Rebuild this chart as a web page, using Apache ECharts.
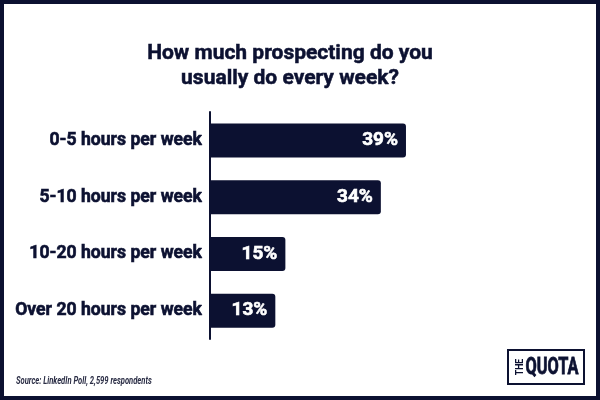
<!DOCTYPE html>
<html><head><meta charset="utf-8">
<script src="https://cdn.jsdelivr.net/npm/echarts@6/dist/echarts.min.js"></script>
<style>html,body{margin:0;padding:0;background:#fff}#c{width:600px;height:400px}</style>
</head><body><div id="c"></div>
<script>
const categories = ['0-5 hours per week', '5-10 hours per week', '10-20 hours per week', 'Over 20 hours per week'];
const values = [39, 34, 15, 13];
const titleText = 'How much prospecting do you\nusually do every week?';
const sourceText = 'Source: LinkedIn Poll, 2,599 respondents';
const navy = '#0c1131';

const chart = echarts.init(document.getElementById('c'), null, {renderer: 'canvas'});
chart.setOption({
  backgroundColor: '#fff',
  animation: false,
  title: {
    text: titleText,
    left: 285, top: 36, textAlign: 'center',
    textStyle: {fontFamily: 'Roboto', fontWeight: 'bold', fontSize: 21, lineHeight: 25, color: navy,
      textBorderColor: navy, textBorderWidth: 0.5}
  },
  grid: {left: 210, right: 189, top: 112, bottom: 61},
  xAxis: {type: 'value', min: 0, max: 40, show: false},
  yAxis: {
    type: 'category', data: categories, inverse: true,
    axisLine: {show: true, lineStyle: {color: navy, width: 2}},
    axisTick: {show: false},
    axisLabel: {margin: 8, fontFamily: 'Roboto', fontWeight: 'bold', fontSize: 17.6, color: navy,
      textBorderColor: navy, textBorderWidth: 0.6}
  },
  series: [{
    type: 'bar', data: values, barWidth: 34,
    itemStyle: {color: navy, borderRadius: [0, 3, 3, 0]},
    label: {show: true, position: 'insideRight', distance: 8, formatter: '{c}%',
      fontFamily: 'Roboto', fontWeight: 'bold', fontSize: 19, color: '#fff',
      textBorderColor: '#fff', textBorderWidth: 0.6}
  }],
  graphic: [
    {type: 'rect', shape: {x: 2, y: 2, width: 596, height: 396}, style: {fill: 'none', stroke: navy, lineWidth: 4}, z: 100},
    {type: 'text', x: 16, y: 381, scaleX: 0.69, style: {text: sourceText, font: 'italic bold 11px Roboto', fill: '#2a2d45', verticalAlign: 'middle'}},
    {type: 'rect', shape: {x: 508, y: 350, width: 76, height: 34}, style: {fill: '#fff', stroke: navy, lineWidth: 2}},
    {type: 'text', x: 520, y: 367, rotation: Math.PI / 2, scaleX: 0.8, style: {text: 'THE', font: 'bold 11px Roboto', fill: navy, align: 'center', verticalAlign: 'middle'}},
    {type: 'text', x: 552, y: 368, scaleX: 0.68, style: {text: 'QUOTA', font: 'bold 24px Roboto', fill: navy, align: 'center', verticalAlign: 'middle', stroke: navy, lineWidth: 0.8}}
  ]
});
</script></body></html>
